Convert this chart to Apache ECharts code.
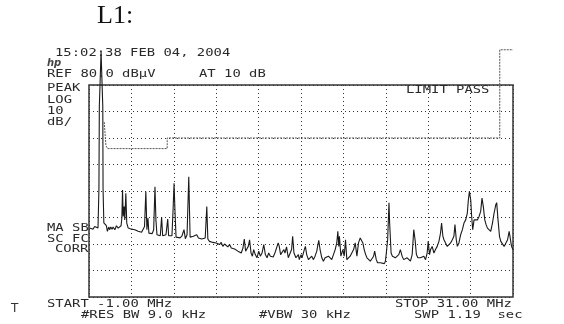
<!DOCTYPE html>
<html>
<head>
<meta charset="utf-8">
<script src="https://cdn.jsdelivr.net/npm/echarts@6/dist/echarts.min.js"></script>
<style>
html,body{margin:0;padding:0;background:#fff;}
#chart{width:564px;height:324px;}
</style>
</head>
<body>
<div id="chart"></div>
<script>
// 扫描迹线: 频率 (MHz) / 电平 (dBµV)
var freqMHz = [
  -0.95,-0.82,-0.70,-0.57,-0.44,-0.32,-0.25,-0.22,-0.09,0.04,0.06,0.12,
  0.31,0.39,0.49,0.57,0.64,0.74,0.82,0.95,1.07,1.20,1.32,1.42,
  1.48,1.53,1.58,1.65,1.70,1.78,1.85,1.96,2.08,2.21,2.33,2.46,2.59,2.71,2.84,2.97,3.09,
  3.19,3.29,3.37,3.45,3.52,3.65,3.77,3.88,3.98,4.05,4.13,4.25,4.38,4.48,4.56,4.68,4.81,
  4.94,5.01,5.14,5.26,5.34,5.42,5.49,5.57,5.72,5.87,6.02,6.17,6.27,6.40,6.53,6.63,6.75,
  6.88,7.01,7.13,7.26,7.39,7.51,7.64,7.77,7.89,7.97,8.09,8.22,8.35,8.47,8.60,8.73,8.85,
  8.98,9.10,9.23,9.36,9.48,9.61,9.74,9.86,9.99,10.11,10.24,10.37,10.49,10.62,10.72,10.82,
  10.92,11.02,11.12,11.23,11.33,11.43,11.55,11.68,11.81,11.93,12.06,12.19,12.31,12.44,12.56,12.69,
  12.78,12.90,13.03,13.16,13.28,13.36,13.46,13.61,13.71,13.79,13.91,14.04,14.17,14.29,14.37,14.47,
  14.62,14.80,14.87,15.00,15.08,15.18,15.25,15.33,15.43,15.56,15.68,15.81,15.93,16.06,16.19,16.34,
  16.44,16.57,16.69,16.82,16.95,17.07,17.20,17.32,17.45,17.58,17.70,17.78,17.85,17.90,18.01,18.16,
  18.26,18.36,18.46,18.59,18.71,18.84,18.97,19.09,19.22,19.34,19.47,19.57,19.67,19.77,19.88,19.98,
  20.10,20.23,20.36,20.48,20.56,20.68,20.78,20.89,20.99,21.14,21.29,21.37,21.44,21.54,21.64,21.69,
  21.80,21.90,22.00,22.12,22.25,22.38,22.50,22.63,22.75,22.88,23.01,23.13,23.26,23.39,23.51,23.61,
  23.71,23.82,23.92,24.02,24.14,24.27,24.40,24.52,24.60,24.70,24.78,24.90,25.03,25.15,25.28,25.41,
  25.53,25.61,25.71,25.79,25.91,26.04,26.17,26.29,26.42,26.54,26.62,26.72,26.80,26.92,27.05,27.18,
  27.30,27.43,27.55,27.63,27.71,27.81,27.88,27.96,28.06,28.19,28.31,28.44,28.56,28.66,28.76,28.87,
  28.97,29.07,29.19,29.32,29.45,29.57,29.70,29.77,29.87,29.98,30.08,30.21,30.33,30.46,30.59,30.71,
  30.79,30.89,30.99
];
var levelDb = [
  26.0,26.4,25.6,26.6,27.3,26.0,41.0,72.0,92.5,72.0,41.0,28.0,
  26.9,24.8,26.4,25.4,26.4,25.6,26.4,25.4,26.9,26.0,26.4,26.9,
  29.8,40.4,30.4,34.1,29.1,39.1,27.9,26.0,26.4,25.6,26.0,25.4,25.6,24.8,25.4,24.4,25.1,
  26.6,39.8,25.4,29.8,24.1,24.8,23.9,25.4,41.6,29.1,23.5,24.1,23.1,30.1,23.1,22.9,23.5,
  29.4,23.1,22.9,23.1,32.3,42.9,32.3,22.6,22.9,22.3,23.1,25.4,22.0,23.5,45.4,22.6,22.3,
  22.9,22.3,23.5,22.3,22.0,21.9,21.6,22.3,34.1,21.9,21.0,21.4,20.6,21.0,20.4,20.0,19.8,
  20.6,19.1,20.0,19.4,18.9,19.8,18.5,19.1,18.1,18.5,17.3,17.9,16.6,18.5,21.9,17.3,
  16.6,19.1,21.6,16.6,15.4,17.9,16.0,14.8,17.3,15.4,16.6,19.8,16.0,14.8,16.6,15.4,
  16.0,15.1,16.6,16.0,20.4,19.1,16.0,15.4,17.9,16.6,18.9,14.8,15.4,17.9,22.9,16.6,
  14.8,16.0,14.1,16.0,14.8,15.4,17.9,19.1,16.0,14.1,14.8,15.4,14.1,15.4,17.3,21.4,
  17.9,14.8,13.5,14.8,14.1,15.4,14.8,14.1,16.0,17.9,20.4,24.8,19.1,22.9,15.4,17.9,
  15.4,21.6,14.1,13.5,15.4,16.0,17.9,20.4,15.4,20.4,22.3,22.6,20.4,17.9,16.0,14.8,
  14.1,13.5,12.9,15.4,17.3,14.1,12.9,12.3,12.9,12.3,12.6,13.5,16.6,21.6,35.6,27.9,
  16.6,15.4,16.0,14.8,15.4,16.0,17.9,15.4,14.1,13.5,14.8,14.1,13.5,16.0,25.4,21.6,
  16.0,14.8,15.4,14.8,14.4,15.4,14.1,16.6,21.0,16.0,17.9,19.1,16.6,17.9,19.1,21.0,
  24.1,27.9,22.9,21.6,20.4,19.1,18.5,20.4,21.6,22.9,27.3,21.6,19.1,20.4,23.5,25.4,
  27.9,29.1,31.6,36.6,39.8,36.6,30.4,25.4,29.1,29.8,29.1,30.4,32.3,37.3,34.1,29.1,
  27.3,26.0,26.6,24.8,27.9,31.6,34.8,35.6,29.1,22.9,21.0,20.4,19.1,19.8,21.6,24.8,
  25.4,19.1,17.9
];

// 限值线
var limitFreq = [0.15, 0.28, 0.4, 4.9, 4.9, 30.0, 30.0, 31.0];
var limitDb = [66, 57, 56, 56, 60, 60, 93.3, 93.3];

// 屏幕文字
var monoLabels = [
  ['15:02:38 FEB 04, 2004', 55, 53],
  ['REF 80.0 dB\u00b5V', 47, 74],
  ['AT 10 dB', 199, 74],
  ['PEAK', 47, 88],
  ['LOG', 47, 100],
  ['10', 47, 111],
  ['dB/', 47, 122],
  ['LIMIT PASS', 406, 90],
  ['MA SB', 47, 228],
  ['SC FC', 47, 239],
  ['CORR', 55, 249],
  ['START -1.00 MHz', 47, 304],
  ['#RES BW 9.0 kHz', 81, 315],
  ['#VBW 30 kHz', 259, 315],
  ['STOP 31.00 MHz', 395, 304],
  ['SWP 1.19  sec', 414, 315]
];

var trace = freqMHz.map(function (f, i) { return [f, levelDb[i]]; });
var limit = limitFreq.map(function (f, i) { return [f, limitDb[i]]; });

var graphic = monoLabels.map(function (l) {
  return {
    type: 'text', x: l[1], y: l[2], scaleX: 1.26, z: 100,
    style: {
      text: l[0], font: '11px "DejaVu Sans Mono"', fill: '#2a2a2a',
      align: 'left', verticalAlign: 'middle', textVerticalAlign: 'middle'
    }
  };
});
graphic.push({
  type: 'text', x: 97, y: 16, z: 100,
  style: { text: 'L1:', font: '26px "Liberation Serif"', fill: '#111', verticalAlign: 'middle', textVerticalAlign: 'middle' }
});
graphic.push({
  type: 'text', x: 47, y: 63, z: 100,
  style: { text: 'hp', font: 'italic bold 10px "DejaVu Sans"', fill: '#444', verticalAlign: 'middle', textVerticalAlign: 'middle' }
});
graphic.push({
  type: 'text', x: 11, y: 309, z: 100,
  style: { text: 'T', font: '12px "DejaVu Sans"', fill: '#333', verticalAlign: 'middle', textVerticalAlign: 'middle' }
});

var dotted = { color: '#333', width: 1, type: [1, 3] };

var myChart = echarts.init(document.getElementById('chart'));
myChart.setOption({
  animation: false,
  backgroundColor: '#fff',
  grid: {
    left: 89, top: 85, width: 424, height: 212,
    show: true, borderColor: '#333', borderWidth: 1.5, backgroundColor: 'transparent'
  },
  xAxis: [
    {
      type: 'value', min: -1, max: 31,
      axisLine: { show: false }, axisTick: { show: false }, axisLabel: { show: false },
      splitLine: { show: false }
    },
    {
      // 10 格竖向网格
      type: 'value', min: 0, max: 10, interval: 1,
      axisLine: { show: false }, axisTick: { show: false }, axisLabel: { show: false },
      splitLine: { show: true, lineStyle: dotted }
    }
  ],
  yAxis: {
    type: 'value', min: 0, max: 80, interval: 10,
    axisLine: { show: false }, axisTick: { show: false }, axisLabel: { show: false },
    splitLine: { show: true, lineStyle: dotted }
  },
  series: [
    {
      type: 'line', xAxisIndex: 0, data: limit, clip: false, symbol: 'none',
      lineStyle: { color: '#555', width: 1, type: [2, 1] }, z: 3
    },
    {
      type: 'line', xAxisIndex: 0, data: trace, clip: false, symbol: 'none',
      lineStyle: { color: '#1a1a1a', width: 1.1 }, z: 4
    }
  ],
  graphic: graphic
});
</script>
</body>
</html>
